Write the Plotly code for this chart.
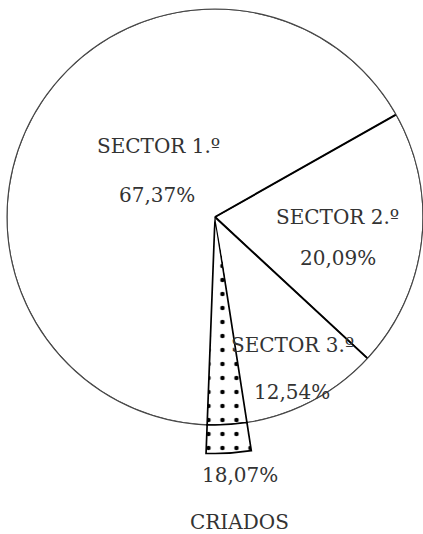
import plotly.graph_objects as go

# sectors in drawing order (clockwise from the 2nd sector)
sectors = ["SECTOR 2.º", "SECTOR 3.º", "SECTOR 1.º"]
shares = [20.09, 12.54, 67.37]

criados_label = "CRIADOS"
criados_share = 18.07

W, H = 423, 534
START = 60.5          # clockwise from 12 o'clock, where sector 2 begins
WEDGE_WIDTH = 11.0    # degrees of the dotted "criados" wedge
WEDGE_REACH = 113.7   # radial reach of the wedge (circle = 100)
FONT = "DejaVu Serif"
INK = "#333"


def fmt(v):
    return f"{v:.2f}".replace(".", ",") + "%"


widths = [s * 3.6 for s in shares]
edges = [START]
centers = []
for w in widths:
    centers.append(edges[-1] + w / 2)
    edges.append(edges[-1] + w)

fig = go.Figure()

fig.add_trace(
    go.Barpolar(
        r=[100] * len(shares),
        theta=centers,
        width=widths,
        marker=dict(color="white", line=dict(color="#444", width=1.1)),
        hoverinfo="skip",
    )
)

# the two drawn radii (sector 2 edges), a bit heavier than the rim
for ang in edges[:2]:
    fig.add_trace(
        go.Scatterpolar(
            r=[0, 100],
            theta=[ang, ang],
            mode="lines",
            line=dict(color="black", width=2),
            hoverinfo="skip",
        )
    )

# dotted wedge for the servants; lives in a second, narrow polar so it can
# reach past the rim of the main circle. Split at the rim so the rim shows.
wedge_theta = edges[2] - 1.3
fig.add_trace(
    go.Barpolar(
        r=[100, WEDGE_REACH - 100],
        base=[0, 100],
        theta=[wedge_theta, wedge_theta],
        width=[WEDGE_WIDTH, WEDGE_WIDTH],
        subplot="polar2",
        marker=dict(
            color="white",
            line=dict(color="black", width=1.7),
            pattern=dict(shape=".", fgcolor="black", fgopacity=1, bgcolor="white",
                         size=14, solidity=0.08),
        ),
        hoverinfo="skip",
    )
)

ann_pos = {
    "SECTOR 1.º": [(158, 146), (157, 195)],
    "SECTOR 2.º": [(337, 217), (338, 258)],
    "SECTOR 3.º": [(292, 345), (292, 392)],
}
annotations = []


def label(txt, x, y):
    return dict(x=x / W, y=1 - y / H, xref="paper", yref="paper", text=txt,
                xanchor="center", yanchor="middle", showarrow=False,
                font=dict(family=FONT, size=20, color=INK))


for name, share in zip(sectors, shares):
    (x1, y1), (x2, y2) = ann_pos[name]
    annotations.append(label(name, x1, y1))
    annotations.append(label(fmt(share), x2, y2))
annotations.append(label(fmt(criados_share), 240, 475))
annotations.append(label(criados_label, 239, 522))

cx, cy, R = 215, 217, 208
M2 = 115                     # radial range of the wedge subplot
R2 = M2 * R / 100            # its radius in px, same scale as the circle
angular = dict(direction="clockwise", rotation=90, showgrid=False,
               showticklabels=False, ticks="")

fig.update_layout(
    width=W,
    height=H,
    margin=dict(l=0, r=0, t=0, b=0),
    paper_bgcolor="white",
    showlegend=False,
    polar=dict(
        domain=dict(x=[(cx - R) / W, (cx + R) / W], y=[1 - (cy + R) / H, 1 - (cy - R) / H]),
        bgcolor="white",
        radialaxis=dict(range=[0, 100], visible=False),
        angularaxis=dict(angular, showline=True, linecolor="#444", linewidth=1.1),
    ),
    polar2=dict(
        domain=dict(x=[(cx - 60) / W, (cx + 60) / W], y=[1 - (cy + R2) / H, 1 - cy / H]),
        sector=[260, 280],
        bgcolor="rgba(0,0,0,0)",
        radialaxis=dict(range=[0, M2], visible=False),
        angularaxis=dict(angular, showline=False),
    ),
    annotations=annotations,
)

fig.write_html(
    "out.html",
    config={"displayModeBar": False},
    post_script="document.body.style.margin='0px';",
)
